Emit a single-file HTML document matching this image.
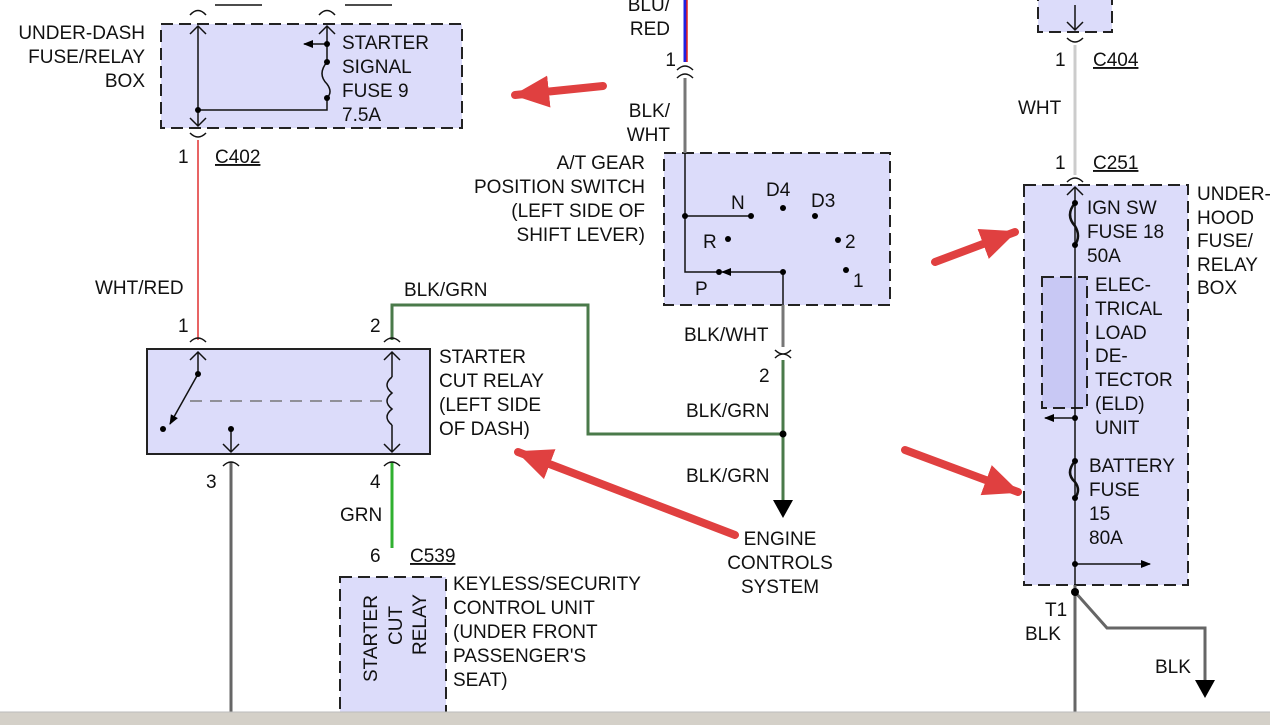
<!DOCTYPE html>
<html><head><meta charset="utf-8"><style>
html,body{margin:0;padding:0;background:#fff}
svg{display:block}
text{font-family:"Liberation Sans",sans-serif;font-size:19px;fill:#111}
</style></head><body>
<svg width="1270" height="725" viewBox="0 0 1270 725" xmlns="http://www.w3.org/2000/svg">
<defs>
<marker id="ah" markerWidth="10" markerHeight="10" refX="9" refY="5" orient="auto" markerUnits="userSpaceOnUse"><path d="M0,1 L10,5 L0,9 Z" fill="#000"/></marker>
<marker id="ra" markerWidth="40" markerHeight="40" refX="34" refY="20" orient="auto" markerUnits="userSpaceOnUse"><path d="M0,4 L36,20 L0,36 Z" fill="#e04040"/></marker>
</defs>
<g fill="#dcdcfa" stroke="#222" stroke-width="2" stroke-dasharray="12,6">
<rect x="161" y="24" width="301" height="104"/>
<rect x="664" y="153" width="226" height="152"/>
<rect x="340" y="577" width="106" height="140"/>
<rect x="1038" y="-5" width="74" height="37"/>
<rect x="1024" y="185" width="164" height="400"/>
<rect x="1042" y="277" width="45" height="131" fill="#c8c8f4"/>
</g>
<rect x="147" y="349" width="283" height="105" fill="#dcdcfa" stroke="#222" stroke-width="2"/>
<g fill="none" stroke-width="3">
<line x1="685" y1="0" x2="685" y2="62" stroke="#2020e0"/>
<line x1="687" y1="0" x2="687" y2="62" stroke="#e02020" stroke-width="1.5"/>
<line x1="685" y1="78" x2="685" y2="153" stroke="#777"/>
<line x1="198" y1="140" x2="198" y2="340" stroke="#e03030" stroke-width="1.5"/>
<polyline points="392,340 392,305 588,305 588,434 783,434" stroke="#4a7a4a"/>
<line x1="231" y1="462" x2="231" y2="712" stroke="#666"/>
<line x1="392" y1="462" x2="392" y2="548" stroke="#30b030"/>
<line x1="783" y1="305" x2="783" y2="347" stroke="#777"/>
<line x1="783" y1="360" x2="783" y2="500" stroke="#4a7a4a"/>
<line x1="1075" y1="45" x2="1075" y2="175" stroke="#ccc"/>
<line x1="1075" y1="585" x2="1075" y2="712" stroke="#666"/>
<polyline points="1075,592 1107,628 1205,628 1205,682" stroke="#666"/>
</g>
<polygon points="773,500 793,500 783,518" fill="#000"/>
<polygon points="1195,680 1215,680 1205,698" fill="#000"/>
<g fill="none" stroke="#111" stroke-width="1.5">
<path d="M190,15 Q198,6 206,15 M319,15 Q327,6 335,15"/>
<path d="M190,133 Q198,141 206,133"/>
<path d="M677,70 Q685,62 693,70 M677,78 Q685,70 693,78"/>
<path d="M190,342 Q198,334 206,342 M384,342 Q392,334 400,342"/>
<path d="M223,466 Q231,458 239,466 M384,466 Q392,458 400,466"/>
<path d="M775,350 Q783,358 791,350 M775,358 Q783,350 791,358"/>
<path d="M1067,38 Q1075,46 1083,38 M1067,182 Q1075,174 1083,182"/>
<line x1="215" y1="5" x2="262" y2="5"/><line x1="345" y1="5" x2="392" y2="5"/>
</g>
<g fill="none" stroke="#111" stroke-width="1.5">
<line x1="198" y1="26" x2="198" y2="126"/>
<path d="M190,34 L198,26 L206,34 M190,118 L198,126 L206,118"/>
<line x1="327" y1="26" x2="327" y2="62"/>
<path d="M319,34 L327,26 L335,34"/>
<path d="M327,62 Q317,74 327,84 Q333,92 327,98"/>
<polyline points="327,98 327,110 198,110"/>
<line x1="327" y1="44" x2="304" y2="44" marker-end="url(#ah)"/>
<line x1="198" y1="352" x2="198" y2="374"/><path d="M190,360 L198,352 L206,360"/>
<line x1="198" y1="374" x2="170" y2="424" marker-end="url(#ah)"/>
<line x1="231" y1="429" x2="231" y2="452"/><path d="M223,444 L231,452 L239,444"/>
<line x1="392" y1="352" x2="392" y2="377"/><path d="M384,360 L392,352 L400,360 M384,444 L392,452 L400,444"/>
<path d="M392,377 q-10,8 0,16 q-10,8 0,16 q-10,8 0,16"/>
<line x1="392" y1="425" x2="392" y2="452"/>
<line x1="190" y1="401" x2="390" y2="401" stroke="#777" stroke-dasharray="12,8"/>
<polyline points="685,153 685,272 719,272"/>
<line x1="685" y1="216" x2="751" y2="216"/>
<line x1="783" y1="272" x2="722" y2="272" marker-end="url(#ah)"/>
<line x1="783" y1="272" x2="783" y2="305"/>
<line x1="1075" y1="5" x2="1075" y2="30"/><path d="M1067,22 L1075,30 L1083,22"/>
<line x1="1075" y1="187" x2="1075" y2="585"/><path d="M1067,195 L1075,187 L1083,195"/>
<path d="M1075,203 Q1065,215 1075,226 Q1081,236 1075,245" stroke-width="2.5"/>
<path d="M1075,461 Q1065,473 1075,482 Q1081,490 1075,498" stroke-width="2.5"/>
<line x1="1075" y1="418" x2="1045" y2="418" marker-end="url(#ah)"/>
<line x1="1075" y1="564" x2="1150" y2="564" marker-end="url(#ah)"/>
</g>
<g fill="#000">
<circle cx="327" cy="44" r="3"/><circle cx="327" cy="62" r="3"/><circle cx="327" cy="98" r="3"/><circle cx="198" cy="110" r="3"/>
<circle cx="198" cy="374" r="3"/><circle cx="163" cy="429" r="3"/><circle cx="231" cy="429" r="3"/>
<circle cx="685" cy="216" r="3"/><circle cx="751" cy="216" r="3"/><circle cx="783" cy="208" r="3"/><circle cx="815" cy="216" r="3"/>
<circle cx="728" cy="239" r="3"/><circle cx="838" cy="240" r="3"/><circle cx="719" cy="272" r="3"/><circle cx="783" cy="272" r="3"/><circle cx="846" cy="270" r="3"/>
<circle cx="783" cy="434" r="3.5"/>
<circle cx="1075" cy="418" r="3"/><circle cx="1075" cy="564" r="3"/><circle cx="1075" cy="592" r="4"/>
<circle cx="1075" cy="203" r="3"/><circle cx="1075" cy="245" r="3"/><circle cx="1075" cy="461" r="3"/><circle cx="1075" cy="498" r="3"/>
</g>
<g stroke="#e04040" stroke-width="8" stroke-linecap="round" marker-end="url(#ra)">
<line x1="603" y1="86" x2="515" y2="95"/>
<line x1="735" y1="535" x2="518" y2="452"/>
<line x1="935" y1="262" x2="1015" y2="232"/>
<line x1="905" y1="450" x2="1018" y2="492"/>
</g>
<g text-anchor="end">
<text x="145" y="39">UNDER-DASH</text><text x="145" y="63">FUSE/RELAY</text><text x="145" y="87">BOX</text>
<text x="645" y="169">A/T GEAR</text><text x="645" y="193">POSITION SWITCH</text><text x="645" y="217">(LEFT SIDE OF</text><text x="645" y="241">SHIFT LEVER)</text>
<text x="670" y="117">BLK/</text><text x="670" y="141">WHT</text>
<text x="670" y="11">BLU/</text><text x="670" y="35">RED</text><text x="676" y="66">1</text>
</g>
<text x="342" y="49">STARTER</text><text x="342" y="73">SIGNAL</text><text x="342" y="97">FUSE 9</text><text x="342" y="121">7.5A</text>
<text x="178" y="163">1</text><text x="215" y="163" text-decoration="underline">C402</text>
<text x="95" y="294">WHT/RED</text>
<text x="178" y="332">1</text><text x="370" y="332">2</text>
<text x="404" y="296">BLK/GRN</text>
<text x="439" y="363">STARTER</text><text x="439" y="387">CUT RELAY</text><text x="439" y="411">(LEFT SIDE</text><text x="439" y="435">OF DASH)</text>
<text x="206" y="488">3</text><text x="370" y="488">4</text>
<text x="340" y="521">GRN</text>
<text x="370" y="562">6</text><text x="410" y="562" text-decoration="underline">C539</text>
<text x="453" y="590">KEYLESS/SECURITY</text><text x="453" y="614">CONTROL UNIT</text><text x="453" y="638">(UNDER FRONT</text><text x="453" y="662">PASSENGER'S</text><text x="453" y="686">SEAT)</text>
<g transform="translate(377,682) rotate(-90)"><text x="0" y="0">STARTER</text></g>
<g transform="translate(402,645) rotate(-90)"><text x="0" y="0">CUT</text></g>
<g transform="translate(426,655) rotate(-90)"><text x="0" y="0">RELAY</text></g>
<text x="731" y="209">N</text><text x="766" y="196">D4</text><text x="811" y="207">D3</text>
<text x="703" y="248">R</text><text x="845" y="248">2</text><text x="695" y="295">P</text><text x="853" y="287">1</text>
<text x="684" y="341">BLK/WHT</text><text x="759" y="382">2</text>
<text x="686" y="417">BLK/GRN</text><text x="686" y="482">BLK/GRN</text>
<g text-anchor="middle"><text x="780" y="545">ENGINE</text><text x="780" y="569">CONTROLS</text><text x="780" y="593">SYSTEM</text></g>
<text x="1055" y="66">1</text><text x="1093" y="66" text-decoration="underline">C404</text>
<text x="1018" y="114">WHT</text>
<text x="1055" y="169">1</text><text x="1093" y="169" text-decoration="underline">C251</text>
<text x="1197" y="200">UNDER-</text><text x="1197" y="224">HOOD</text><text x="1197" y="247">FUSE/</text><text x="1197" y="271">RELAY</text><text x="1197" y="294">BOX</text>
<text x="1087" y="214">IGN SW</text><text x="1087" y="238">FUSE 18</text><text x="1087" y="262">50A</text>
<text x="1095" y="291">ELEC-</text><text x="1095" y="315">TRICAL</text><text x="1095" y="339">LOAD</text><text x="1095" y="362">DE-</text><text x="1095" y="386">TECTOR</text><text x="1095" y="410">(ELD)</text><text x="1095" y="434">UNIT</text>
<text x="1089" y="472">BATTERY</text><text x="1089" y="496">FUSE</text><text x="1089" y="520">15</text><text x="1089" y="544">80A</text>
<text x="1045" y="616">T1</text><text x="1025" y="640">BLK</text>
<text x="1155" y="673">BLK</text>
<rect x="0" y="712" width="1270" height="13" fill="#d4d0c8"/>
<line x1="0" y1="712" x2="1270" y2="712" stroke="#bbb"/>
</svg>
</body></html>
